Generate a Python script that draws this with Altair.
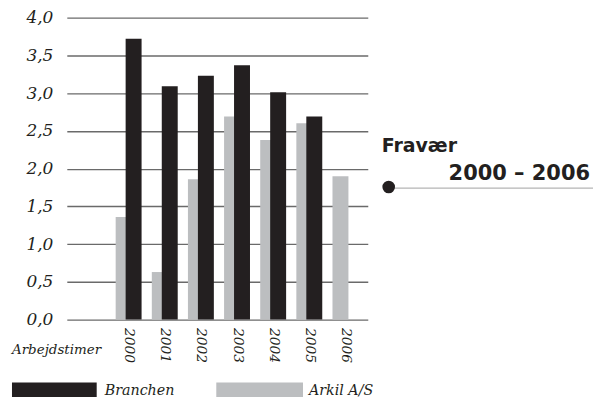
import altair as alt
import pandas as pd

# ---- data ----
years = [2000, 2001, 2002, 2003, 2004, 2005, 2006]
branchen_years = [2000, 2001, 2002, 2003, 2004, 2005]
branchen = [3.72, 3.09, 3.23, 3.37, 3.01, 2.69]
arkil = [1.36, 0.63, 1.86, 2.69, 2.38, 2.60, 1.90]
y_ticks = [0.0, 0.5, 1.0, 1.5, 2.0, 2.5, 3.0, 3.5, 4.0]
series_names = ["Branchen", "Arkil A/S"]
x_title = "Arbejdstimer"
side_title = ["Fravær", "2000 – 2006"]

BLACK = "#231f20"
GRAY = "#bcbec0"

df_b = pd.DataFrame({"year": branchen_years, "value": branchen})
df_a = pd.DataFrame({"year": years, "value": arkil})
one = pd.DataFrame({"k": [0]})

x_scale = alt.Scale(domain=[1998.427, 2006.48], nice=False, zero=False)
y_scale = alt.Scale(domain=[0, 4], nice=False)

x_axis = alt.Axis(values=years, format="d", labelAngle=90, grid=False, domain=False,
                  ticks=False, title=None, labelFont="DejaVu Serif",
                  labelFontStyle="italic", labelFontSize=13.8, labelColor=BLACK,
                  labelPadding=8, labelOverlap=False, labelFlush=False)
y_axis = alt.Axis(values=y_ticks, labelExpr="replace(format(datum.value, '.1f'), '.', ',')",
                  grid=True, gridColor="#6a6a6a", gridWidth=1.3, domain=False, ticks=False,
                  title=None, labelFont="DejaVu Serif", labelFontStyle="italic",
                  labelFontSize=17, labelColor=BLACK, labelPadding=14,
                  labelOverlap=False, labelFlush=False, tickCount=9)

gray_bars = alt.Chart(df_a).mark_bar(size=16, xOffset=-5, color=GRAY).encode(
    x=alt.X("year:Q", scale=x_scale, axis=x_axis),
    y=alt.Y("value:Q", scale=y_scale, axis=y_axis),
)
black_bars = alt.Chart(df_b).mark_bar(size=16, xOffset=5, color=BLACK).encode(
    x=alt.X("year:Q", scale=x_scale, axis=x_axis),
    y=alt.Y("value:Q", scale=y_scale, axis=y_axis),
)

serif_it = dict(font="DejaVu Serif", fontStyle="italic", color=BLACK)

xtitle = alt.Chart(one).mark_text(text=x_title, align="left", baseline="alphabetic",
                                  fontSize=13.5, **serif_it).encode(
    x=alt.value(-55), y=alt.value(338))

leg_b_rect = alt.Chart(one).mark_rect(color=BLACK).encode(
    x=alt.value(-55), x2=alt.value(30), y=alt.value(366), y2=alt.value(384))
leg_b_text = alt.Chart(one).mark_text(text=series_names[0], align="left", baseline="alphabetic",
                                      fontSize=14.3, **serif_it).encode(
    x=alt.value(38), y=alt.value(379))
leg_a_rect = alt.Chart(one).mark_rect(color=GRAY).encode(
    x=alt.value(150), x2=alt.value(237), y=alt.value(366), y2=alt.value(384))
leg_a_text = alt.Chart(one).mark_text(text=series_names[1], align="left", baseline="alphabetic",
                                      fontSize=14.3, **serif_it).encode(
    x=alt.value(243), y=alt.value(379))

side_line = alt.Chart(one).mark_rule(color="#b5b5b5", strokeWidth=1.2).encode(
    x=alt.value(323), x2=alt.value(540), y=alt.value(171))
side_dot = alt.Chart(one).mark_point(filled=True, shape="circle", size=160, color=BLACK,
                                     opacity=1).encode(
    x=alt.value(323), y=alt.value(170))
side_t1 = alt.Chart(one).mark_text(text=side_title[0], align="left", baseline="alphabetic",
                                   font="DejaVu Sans", fontWeight="bold", fontSize=19,
                                   color=BLACK).encode(x=alt.value(316), y=alt.value(135))
side_t2 = alt.Chart(one).mark_text(text=side_title[1], align="right", baseline="alphabetic",
                                   font="DejaVu Sans", fontWeight="bold", fontSize=21,
                                   color=BLACK).encode(x=alt.value(525), y=alt.value(163))

chart = alt.layer(
    gray_bars, black_bars, xtitle, leg_b_rect, leg_b_text, leg_a_rect, leg_a_text,
    side_line, side_dot, side_t1, side_t2,
).properties(
    width=302, height=303,
    autosize=alt.AutoSizeParams(type="none"),
    padding={"left": 59, "top": 9, "right": 226, "bottom": 77},
).configure_view(stroke=None)

chart.save("out.html", embed_options={"renderer": "svg", "actions": False})
